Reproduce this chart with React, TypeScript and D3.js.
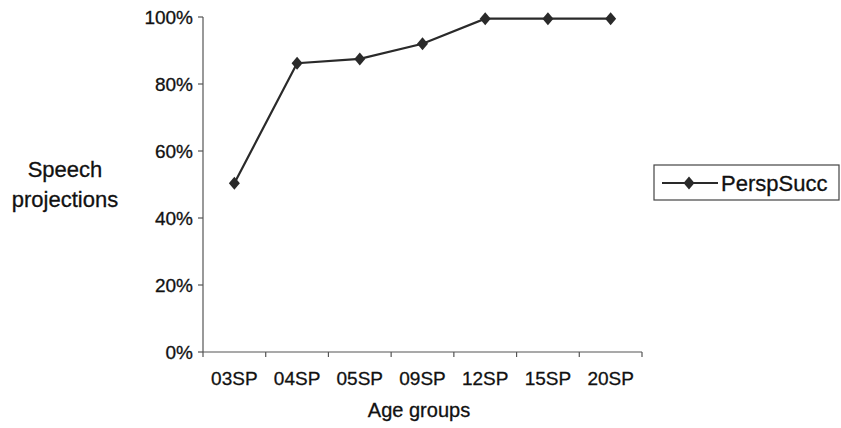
import React from "react";
import * as d3 from "d3";

const categories = ["03SP", "04SP", "05SP", "09SP", "12SP", "15SP", "20SP"];
const perspSucc = [0.504, 0.862, 0.875, 0.92, 0.995, 0.995, 0.995];
const yTicks = [0, 0.2, 0.4, 0.6, 0.8, 1.0];
const seriesName = "PerspSucc";
const xTitle = "Age groups";
const yTitleLines = ["Speech", "projections"];

export default function App() {
  const W = 841, H = 428;
  const left = 203, right = 642, top = 17, bottom = 352;
  const x = d3.scaleBand<string>().domain(categories).range([left, right]);
  const y = d3.scaleLinear().domain([0, 1]).range([bottom, top]);
  const fmt = d3.format(".0%");
  const line = d3
    .line<number>()
    .x((_, i) => (x(categories[i]) as number) + x.bandwidth() / 2)
    .y((d) => y(d));
  const diamond = (cx: number, cy: number, w = 5.5, h = 6.5) =>
    `M${cx},${cy - h}L${cx + w},${cy}L${cx},${cy + h}L${cx - w},${cy}Z`;
  const font = "'Liberation Sans', Arial, sans-serif";
  const boundaries = categories.map((c) => x(c) as number).concat([right]);
  const txt = "#111";

  return (
    <svg
      width={W}
      height={H}
      style={{ position: "absolute", left: 0, top: 0, background: "#fff" }}
      fontFamily={font}
    >
      <rect x={0} y={0} width={W} height={H} fill="#fff" />
      {/* y axis */}
      <line x1={left} x2={left} y1={top} y2={bottom} stroke="#555" strokeWidth={1.2} />
      {yTicks.map((t) => (
        <g key={t}>
          <line x1={left - 5} x2={left} y1={y(t)} y2={y(t)} stroke="#555" strokeWidth={1.2} />
          <text
            x={left - 10}
            y={y(t) + 7}
            textAnchor="end"
            fontSize={19}
            fill={txt}
            stroke={txt}
            strokeWidth={0.3}
          >
            {fmt(t)}
          </text>
        </g>
      ))}
      {/* x axis */}
      <line x1={left} x2={right} y1={bottom} y2={bottom} stroke="#555" strokeWidth={1.2} />
      {boundaries.map((b, i) => (
        <line key={i} x1={b} x2={b} y1={bottom} y2={bottom + 5} stroke="#555" strokeWidth={1.2} />
      ))}
      {categories.map((c) => (
        <text
          key={c}
          x={(x(c) as number) + x.bandwidth() / 2}
          y={385}
          textAnchor="middle"
          fontSize={19}
          fill={txt}
          stroke={txt}
          strokeWidth={0.3}
        >
          {c}
        </text>
      ))}
      {/* titles */}
      <text x={419} y={417} textAnchor="middle" fontSize={20} fill={txt} stroke={txt} strokeWidth={0.3}>
        {xTitle}
      </text>
      {yTitleLines.map((l, i) => (
        <text
          key={l}
          x={65}
          y={177 + i * 30}
          textAnchor="middle"
          fontSize={22}
          fill={txt}
          stroke={txt}
          strokeWidth={0.3}
        >
          {l}
        </text>
      ))}
      {/* series */}
      <path d={line(perspSucc) || ""} fill="none" stroke="#2a2a2a" strokeWidth={2.2} />
      {perspSucc.map((v, i) => (
        <path
          key={i}
          d={diamond((x(categories[i]) as number) + x.bandwidth() / 2, y(v))}
          fill="#2a2a2a"
        />
      ))}
      {/* legend */}
      <rect x={654} y={165} width={185} height={35} fill="none" stroke="#444" strokeWidth={1.2} />
      <line x1={662} x2={718} y1={183} y2={183} stroke="#2a2a2a" strokeWidth={2.2} />
      <path d={diamond(689, 183)} fill="#2a2a2a" />
      <text x={721} y={191} fontSize={22} fill={txt} stroke={txt} strokeWidth={0.3}>
        {seriesName}
      </text>
    </svg>
  );
}
